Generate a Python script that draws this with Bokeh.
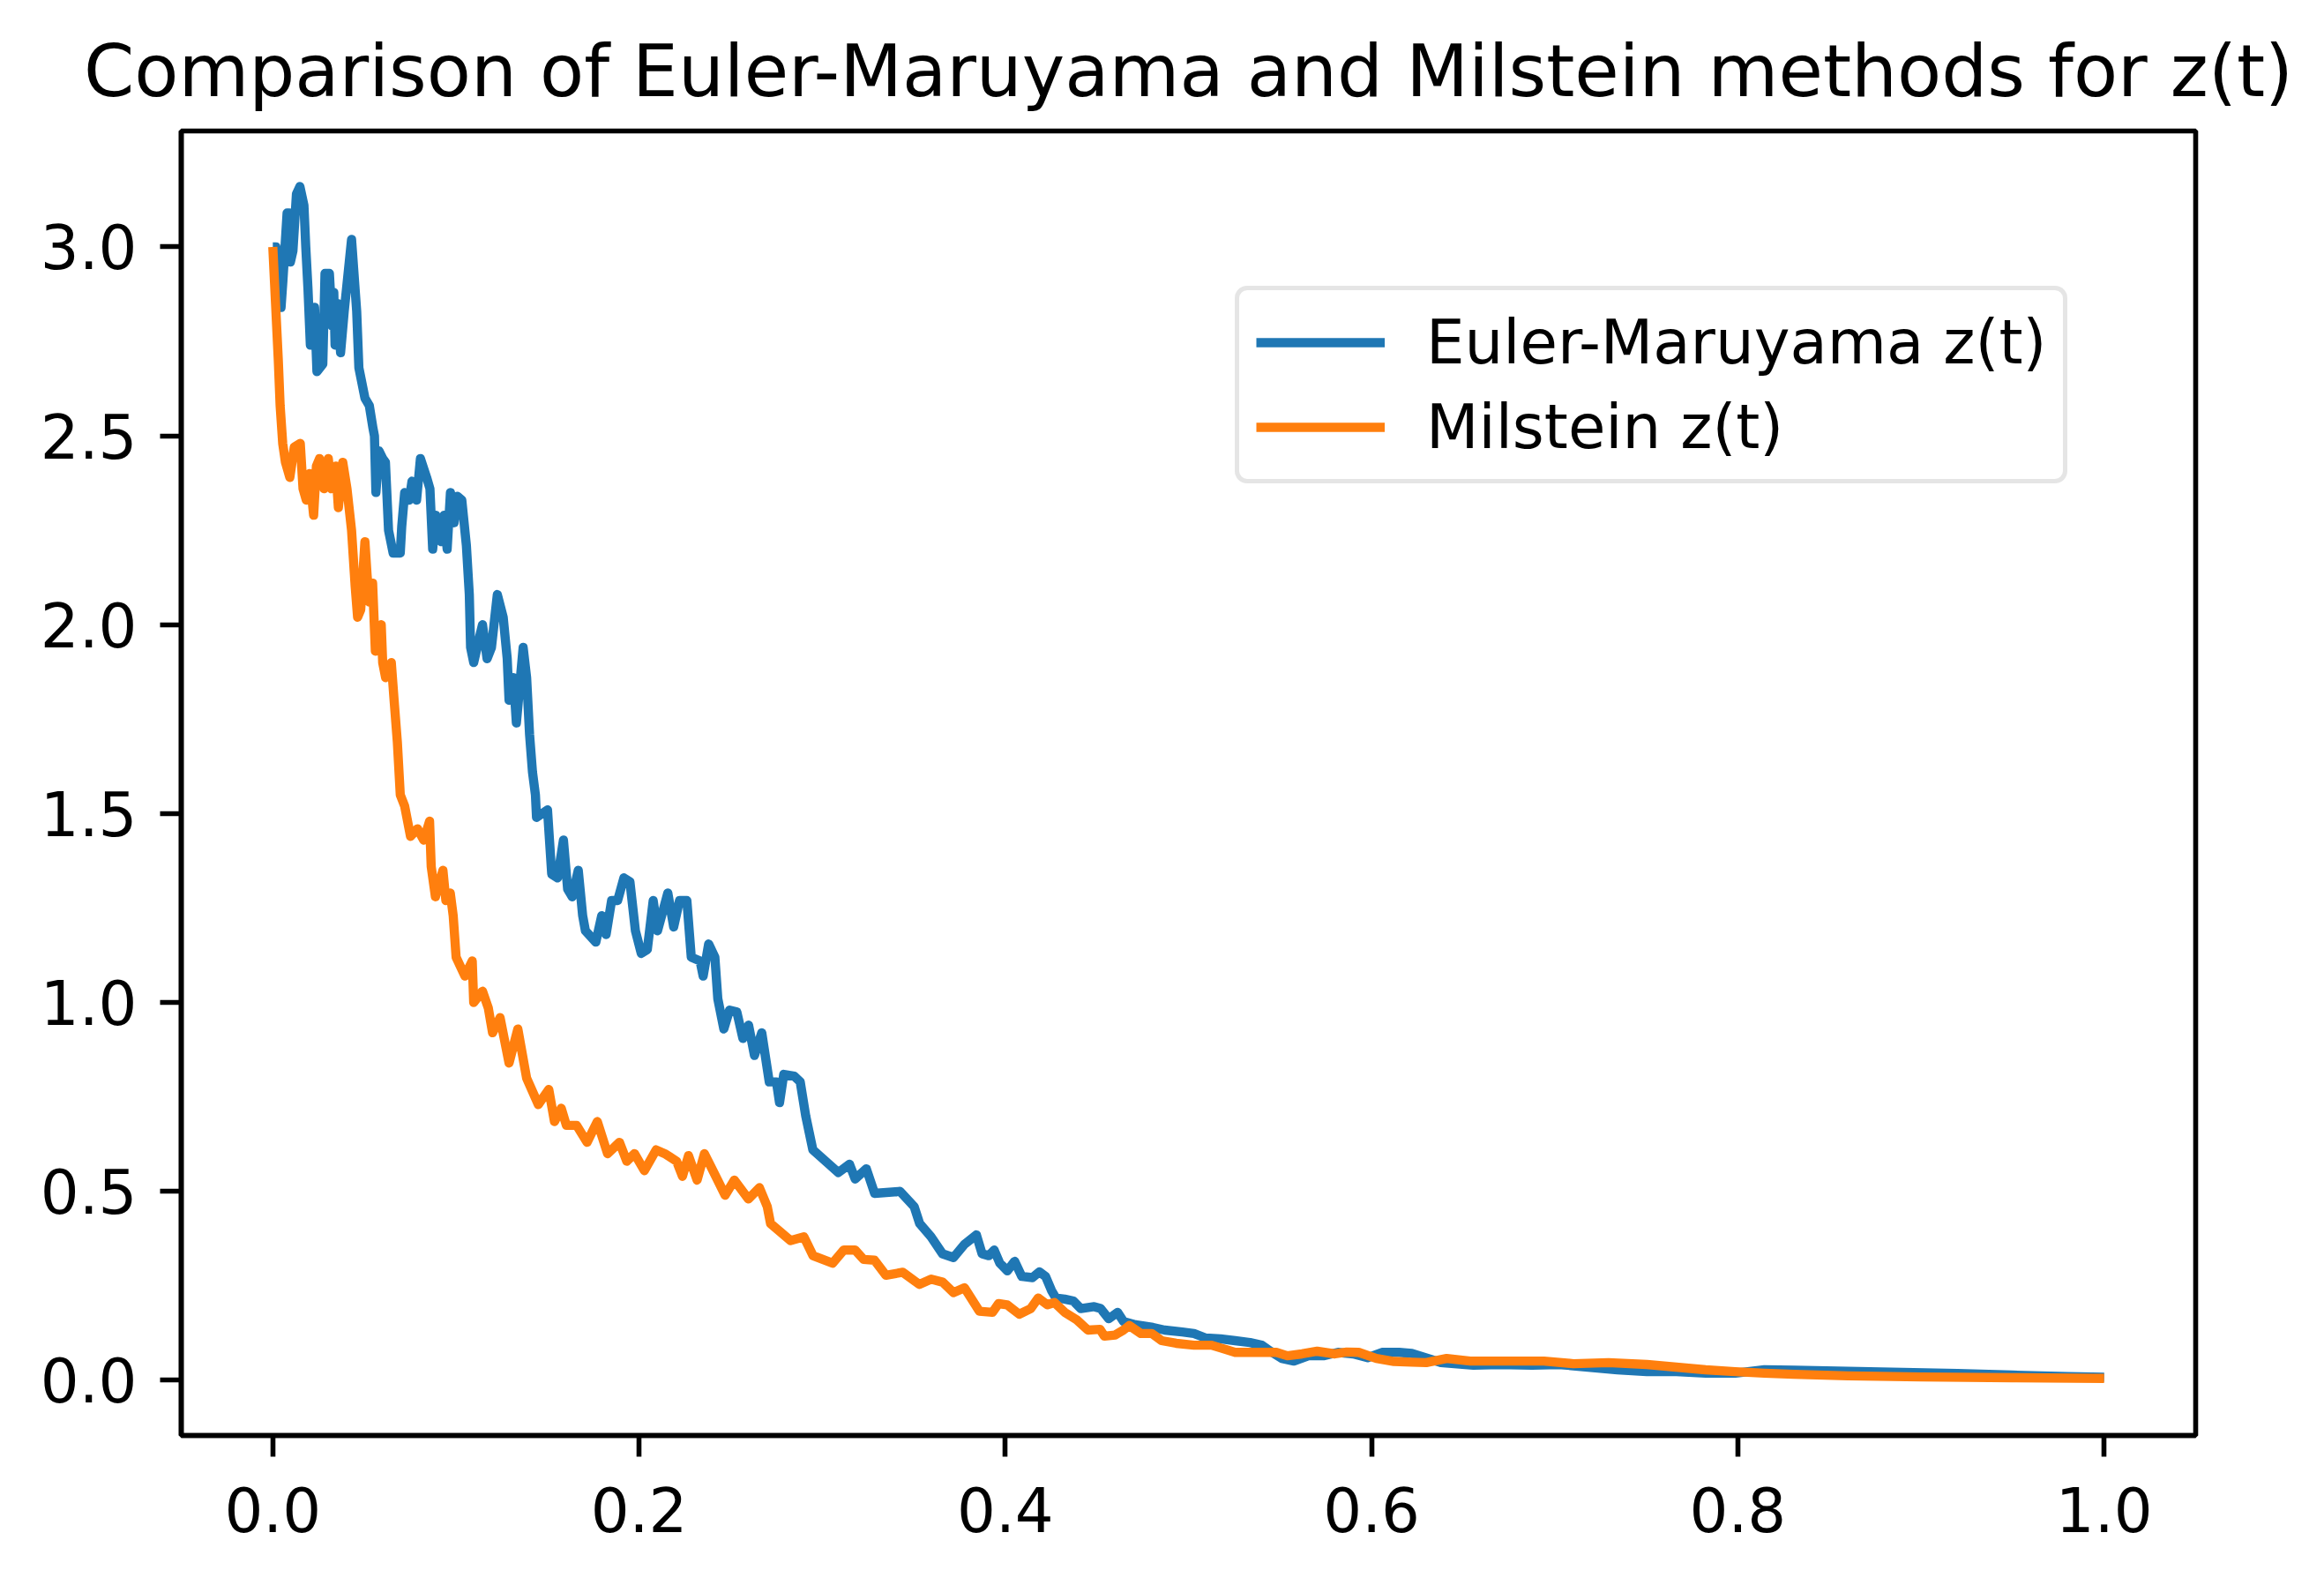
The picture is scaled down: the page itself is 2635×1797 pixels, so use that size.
from bokeh.plotting import figure
from bokeh.models import Range1d, FixedTicker, PrintfTickFormatter, Legend, LegendItem
from bokeh.embed import file_html
from bokeh.resources import INLINE

# ---- data ----
em_t = [0.000, 0.0017, 0.0045, 0.0055, 0.0078, 0.0090, 0.0096, 0.0110, 0.0129, 0.0148,
        0.0170, 0.0180, 0.0192, 0.0205, 0.0228, 0.0241, 0.0273, 0.0285, 0.0309, 0.0325,
        0.0333, 0.0340, 0.0355, 0.0370, 0.0390, 0.0430, 0.0458, 0.0470, 0.0503, 0.0527,
        0.0547, 0.0555, 0.0563, 0.0580, 0.0600, 0.0615, 0.0632, 0.0657, 0.0696, 0.0704,
        0.0720, 0.0745, 0.0760, 0.0785, 0.0806, 0.0840, 0.0858, 0.0873, 0.0890, 0.0920,
        0.0936, 0.0952, 0.0970, 0.0990, 0.1008, 0.1032, 0.1057, 0.1073, 0.1080, 0.1097,
        0.1130, 0.1145, 0.1170, 0.1194, 0.1226, 0.1258, 0.1280, 0.1290, 0.1314, 0.1330,
        0.1367, 0.1386, 0.1402, 0.1418, 0.1434, 0.1440, 0.1500, 0.1523, 0.1555, 0.1587,
        0.1610, 0.1635, 0.1668, 0.1692, 0.1707, 0.1764, 0.1796, 0.1820, 0.1850, 0.1883,
        0.1917, 0.1950, 0.1980, 0.2012, 0.2045, 0.2077, 0.2101, 0.2157, 0.2189, 0.2221,
        0.2261, 0.2285, 0.2333, 0.2350, 0.2380, 0.2414, 0.2430, 0.2463, 0.2494, 0.2534,
        0.2567, 0.2598, 0.2630, 0.2670, 0.2711, 0.2750, 0.2767, 0.2790, 0.2848, 0.2880,
        0.2910, 0.2949, 0.3026, 0.3088, 0.3149, 0.3180, 0.3241, 0.3286, 0.3425, 0.3502,
        0.3532, 0.3594, 0.3657, 0.3717, 0.3777, 0.3842, 0.3873, 0.3910, 0.3939, 0.3970,
        0.4011, 0.4051, 0.4090, 0.4148, 0.4186, 0.4220, 0.4252, 0.4276, 0.4324, 0.4372,
        0.4412, 0.4485, 0.4520, 0.4565, 0.4613, 0.4645, 0.4710, 0.4806, 0.4870, 0.4966,
        0.5030, 0.5095, 0.5174, 0.5255, 0.5336, 0.5400, 0.5448, 0.5510, 0.5576, 0.5655,
        0.5737, 0.5817, 0.5900, 0.5978, 0.6057, 0.6150, 0.6220, 0.6378, 0.6556, 0.6700,
        0.6877, 0.7021, 0.7182, 0.7343, 0.7503, 0.7664, 0.7824, 0.7985, 0.8145, 0.8305,
        0.8600, 0.8900, 0.9200, 0.9500, 0.9800, 1.0000]
em_z = [3.00, 3.00, 2.84, 2.91, 3.09, 3.09, 2.96, 2.99, 3.14, 3.16,
        3.11, 3.00, 2.89, 2.74, 2.84, 2.67, 2.69, 2.93, 2.93, 2.79,
        2.88, 2.74, 2.85, 2.72, 2.83, 3.02, 2.83, 2.68, 2.60, 2.58,
        2.52, 2.50, 2.35, 2.46, 2.44, 2.43, 2.25, 2.19, 2.19, 2.26,
        2.35, 2.33, 2.38, 2.33, 2.44, 2.39, 2.36, 2.20, 2.29, 2.22,
        2.29, 2.20, 2.35, 2.27, 2.34, 2.33, 2.21, 2.08, 1.94, 1.90,
        1.97, 2.00, 1.91, 1.94, 2.08, 2.02, 1.91, 1.80, 1.86, 1.74,
        1.94, 1.86, 1.71, 1.61, 1.55, 1.49, 1.51, 1.34, 1.33, 1.43,
        1.30, 1.28, 1.35, 1.23, 1.19, 1.16, 1.23, 1.18, 1.27, 1.27,
        1.33, 1.32, 1.19, 1.13, 1.14, 1.27, 1.19, 1.29, 1.20, 1.27,
        1.27, 1.12, 1.11, 1.07, 1.155, 1.12, 1.01, 0.93, 0.98, 0.975,
        0.905, 0.94, 0.86, 0.92, 0.79, 0.79, 0.735, 0.81, 0.805, 0.79,
        0.70, 0.61, 0.577, 0.55, 0.572, 0.533, 0.56, 0.495, 0.50, 0.46,
        0.415, 0.38, 0.335, 0.325, 0.36, 0.385, 0.335, 0.33, 0.345, 0.31,
        0.29, 0.315, 0.275, 0.272, 0.287, 0.275, 0.238, 0.218, 0.215, 0.21,
        0.19, 0.195, 0.19, 0.163, 0.18, 0.156, 0.147, 0.14, 0.133, 0.128,
        0.124, 0.112, 0.11, 0.105, 0.10, 0.093, 0.077, 0.058, 0.051, 0.065,
        0.065, 0.074, 0.07, 0.06, 0.074, 0.074, 0.071, 0.047, 0.040, 0.042,
        0.040, 0.042, 0.035, 0.028, 0.023, 0.023, 0.019, 0.019, 0.028, 0.027,
        0.024, 0.021, 0.018, 0.014, 0.010, 0.008]

mil_t = [0.000, 0.0015, 0.0030, 0.0040, 0.0054, 0.0069, 0.0093, 0.0117, 0.0150, 0.0165,
         0.0183, 0.0200, 0.0223, 0.0238, 0.0255, 0.0280, 0.0303, 0.0320, 0.0343, 0.0358,
         0.0382, 0.0405, 0.0430, 0.0450, 0.0463, 0.0480, 0.0503, 0.0515, 0.0527, 0.0545,
         0.0560, 0.0592, 0.0600, 0.0616, 0.0647, 0.0664, 0.0680, 0.0696, 0.0720, 0.0752,
         0.0790, 0.0824, 0.0856, 0.0865, 0.0888, 0.0929, 0.0945, 0.0969, 0.0985, 0.1001,
         0.1049, 0.1089, 0.1097, 0.1145, 0.1177, 0.1200, 0.1241, 0.1290, 0.1338, 0.1386,
         0.1450, 0.1507, 0.1538, 0.1575, 0.1603, 0.1659, 0.1716, 0.1772, 0.1828, 0.1893,
         0.1933, 0.1975, 0.2029, 0.2093, 0.2140, 0.2205, 0.2237, 0.2270, 0.2317, 0.2357,
         0.2427, 0.2470, 0.2520, 0.2597, 0.2657, 0.2700, 0.2718, 0.2827, 0.2900, 0.2950,
         0.3057, 0.3118, 0.3180, 0.3226, 0.3286, 0.3348, 0.3440, 0.3530, 0.3595, 0.3657,
         0.3717, 0.3777, 0.3858, 0.3930, 0.3963, 0.4010, 0.4076, 0.4139, 0.4180, 0.4230,
         0.4268, 0.4324, 0.4390, 0.4451, 0.4517, 0.4541, 0.4600, 0.4645, 0.4677, 0.4740,
         0.4800, 0.4854, 0.4933, 0.5030, 0.5126, 0.5174, 0.5255, 0.5380, 0.5480, 0.5540,
         0.5620, 0.5703, 0.5800, 0.5865, 0.5930, 0.6026, 0.6122, 0.6220, 0.6298, 0.6410,
         0.6539, 0.6781, 0.6941, 0.7102, 0.7294, 0.7503, 0.7664, 0.7824, 0.7985, 0.8145,
         0.8305, 0.8600, 0.9000, 0.9500, 1.0000]
mil_z = [3.00, 2.85, 2.70, 2.58, 2.48, 2.43, 2.39, 2.47, 2.48, 2.36,
         2.33, 2.40, 2.29, 2.42, 2.44, 2.36, 2.44, 2.36, 2.42, 2.31,
         2.43, 2.36, 2.25, 2.10, 2.02, 2.04, 2.22, 2.13, 2.06, 2.11,
         1.93, 2.00, 1.90, 1.86, 1.90, 1.79, 1.69, 1.55, 1.52, 1.44,
         1.46, 1.43, 1.48, 1.36, 1.28, 1.35, 1.27, 1.29, 1.23, 1.12,
         1.07, 1.11, 1.00, 1.03, 0.985, 0.92, 0.96, 0.84, 0.93, 0.80,
         0.73, 0.77, 0.685, 0.72, 0.675, 0.675, 0.63, 0.685, 0.60, 0.63,
         0.58, 0.60, 0.555, 0.61, 0.60, 0.58, 0.54, 0.595, 0.53, 0.60,
         0.532, 0.49, 0.53, 0.48, 0.51, 0.46, 0.415, 0.37, 0.38, 0.33,
         0.31, 0.345, 0.345, 0.32, 0.318, 0.278, 0.286, 0.254, 0.268, 0.26,
         0.232, 0.245, 0.183, 0.18, 0.203, 0.20, 0.175, 0.19, 0.218, 0.20,
         0.206, 0.18, 0.16, 0.133, 0.135, 0.117, 0.12, 0.133, 0.145, 0.124,
         0.124, 0.105, 0.098, 0.093, 0.093, 0.086, 0.074, 0.074, 0.074, 0.065,
         0.07, 0.077, 0.07, 0.075, 0.074, 0.058, 0.050, 0.048, 0.047, 0.058,
         0.051, 0.051, 0.051, 0.044, 0.047, 0.042, 0.035, 0.028, 0.023, 0.019,
         0.016, 0.012, 0.009, 0.007, 0.005]

x_ticks = [0.0, 0.2, 0.4, 0.6, 0.8, 1.0]
y_ticks = [0.0, 0.5, 1.0, 1.5, 2.0, 2.5, 3.0]
title_text = "Comparison of Euler-Maruyama and Milstein methods for z(t)"
labels = ["Euler-Maruyama z(t)", "Milstein z(t)"]
colors = ["#1f77b4", "#ff7f0e"]

FONT = "DejaVu Sans"
W, H = 2619, 1781

p = figure(width=W, height=H, output_backend="svg", toolbar_location=None,
           x_range=Range1d(-0.05, 1.05), y_range=Range1d(-0.146, 3.307),
           min_border_left=205, min_border_right=130, min_border_top=148,
           min_border_bottom=154, background_fill_color="white",
           border_fill_color="white")

p.title.text = title_text
p.title.text_font = FONT
p.title.text_font_size = "82px"
p.title.text_font_style = "normal"
p.title.align = "center"
p.title.text_color = "black"
p.title.standoff = 42

p.xgrid.visible = False
p.ygrid.visible = False
p.outline_line_color = "black"
p.outline_line_width = 5.6

for ax in (p.xaxis[0], p.yaxis[0]):
    ax.axis_line_width = 5.6
    ax.axis_line_color = "black"
    ax.major_tick_line_width = 5.6
    ax.major_tick_line_color = "black"
    ax.major_tick_out = 24
    ax.major_tick_in = 0
    ax.minor_tick_line_color = None
    ax.major_label_text_font = FONT
    ax.major_label_text_font_size = "69px"
    ax.major_label_text_color = "black"
    ax.formatter = PrintfTickFormatter(format="%.1f")

p.xaxis[0].ticker = FixedTicker(ticks=x_ticks)
p.yaxis[0].ticker = FixedTicker(ticks=y_ticks)
p.xaxis[0].major_label_standoff = 34
p.yaxis[0].major_label_standoff = 26

r1 = p.line(em_t, em_z, line_color=colors[0], line_width=10.4, line_join="round")
r2 = p.line(mil_t, mil_z, line_color=colors[1], line_width=10.4, line_join="round")

legend = Legend(items=[LegendItem(label=labels[0], renderers=[r1]),
                       LegendItem(label=labels[1], renderers=[r2])],
                location=(1195, 1079))
legend.label_text_font = FONT
legend.label_text_font_size = "69px"
legend.label_text_color = "black"
legend.glyph_width = 146
legend.glyph_height = 66
legend.label_height = 66
legend.label_standoff = 47
legend.spacing = 16
legend.padding = 19
legend.margin = 0
legend.border_line_color = "#cccccc"
legend.border_line_width = 5.6
legend.background_fill_color = "white"
legend.background_fill_alpha = 0.8
if "border_radius" in Legend.properties():
    legend.border_radius = 14
p.add_layout(legend)

open("out.html", "w").write(file_html(p, INLINE))
